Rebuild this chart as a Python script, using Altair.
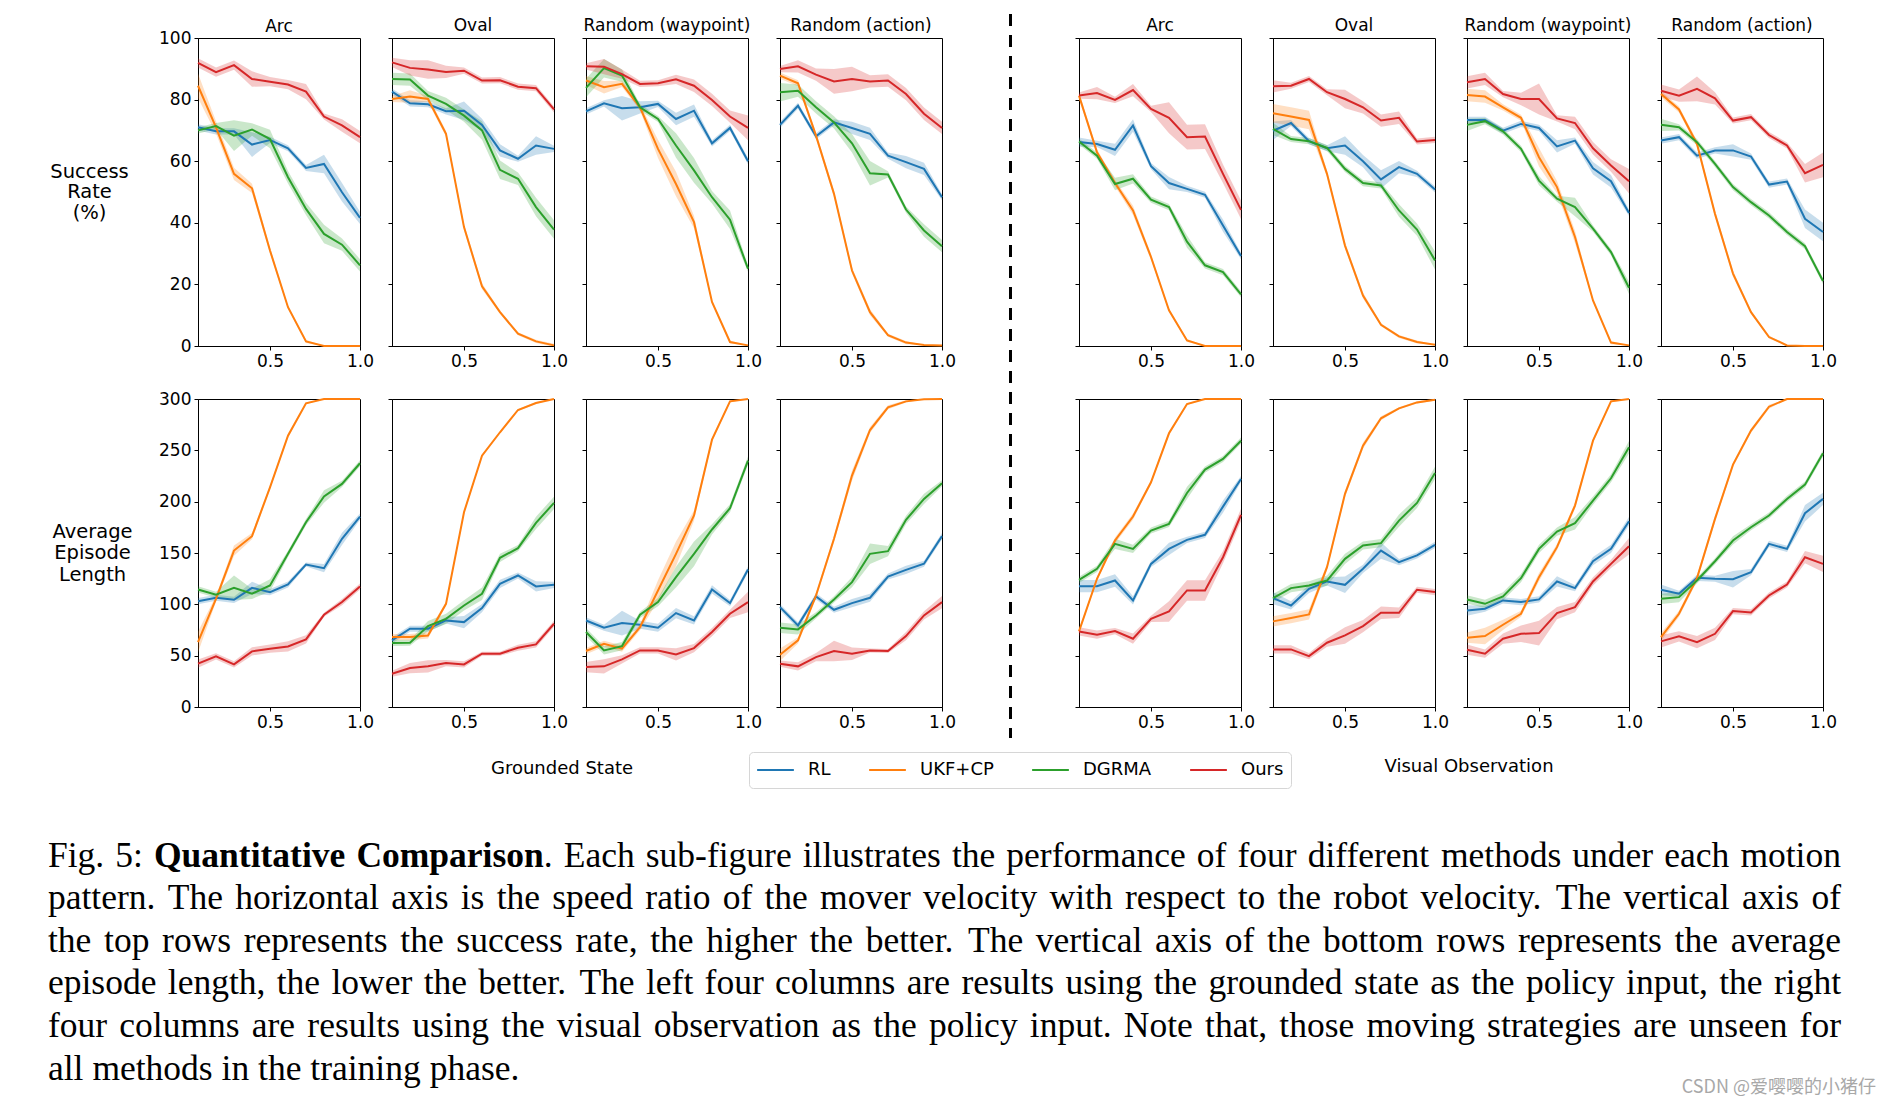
import altair as alt
import pandas as pd

X = [0.1, 0.2, 0.3, 0.4, 0.5, 0.6, 0.7, 0.8, 0.9, 1.0]
METHODS = ["RL", "UKF+CP", "DGRMA", "Ours"]
COLORS = ["#1f77b4", "#ff7f0e", "#2ca02c", "#d62728"]
PATTERNS = ["Arc", "Oval", "Random (waypoint)", "Random (action)"]
ROW_TITLES = [["Success", "Rate", "(%)"], ["Average", "Episode", "Length"]]
SR_TICKS = [0, 20, 40, 60, 80, 100]
LEN_TICKS = [0, 50, 100, 150, 200, 250, 300]
X_TICKS = [0.5, 1.0]
GROUP_LABELS = ["Grounded State", "Visual Observation"]

# ---------------- Success rate (grounded state) ----------------
G_ARC_SR = {
    "RL": [71.0, 69.7, 69.7, 65.4, 66.9, 64.2, 57.8, 59.1, 49.9, 41.6],
    "UKF+CP": [84.5, 71.0, 55.9, 51.2, 31.0, 12.6, 1.5, 0.0, 0.0, 0.0],
    "DGRMA": [70.0, 71.4, 68.3, 70.3, 67.2, 54.8, 44.5, 36.4, 32.9, 26.2],
    "Ours": [91.9, 88.9, 91.2, 86.7, 85.8, 84.9, 82.6, 74.5, 71.6, 67.8],
}
G_ARC_SR_ERR = {
    "RL": [1, 1, 1, 4, 1, 1, 1, 3, 3, 2],
    "UKF+CP": [4, 2, 2, 1.5, 1, 0.5, 0.5, 0, 0, 0],
    "DGRMA": [1, 1, 5, 2, 3, 2, 2, 3, 2, 2],
    "Ours": [1.5, 1.5, 1.5, 2.5, 1.5, 1.5, 2.5, 1, 2, 2],
}
G_OVAL_SR = {
    "RL": [82.6, 78.8, 78.5, 76.2, 76.4, 71.8, 63.5, 60.8, 65.1, 64.0],
    "UKF+CP": [80.2, 81.0, 80.2, 68.9, 38.6, 19.4, 11.0, 4.0, 1.5, 0.2],
    "DGRMA": [86.7, 86.5, 81.3, 78.6, 74.8, 70.0, 57.2, 54.3, 45.1, 37.8],
    "Ours": [92.1, 90.3, 89.8, 89.0, 89.4, 86.2, 86.3, 84.2, 83.7, 76.8],
}
G_OVAL_SR_ERR = {
    "RL": [1, 1, 1, 1, 3, 2, 2, 1, 3, 1],
    "UKF+CP": [1, 2, 1, 1, 1, 1, 0.5, 0.5, 0.5, 0.5],
    "DGRMA": [2, 2, 1.5, 2, 2, 3, 3, 2, 3, 3],
    "Ours": [1.5, 2.5, 3, 2, 1, 1, 1, 1, 1, 1],
}
G_RW_SR = {
    "RL": [76.2, 78.8, 77.2, 77.5, 78.6, 73.7, 76.4, 65.8, 70.8, 60.0],
    "UKF+CP": [86.2, 84.0, 85.1, 77.5, 64.0, 52.6, 40.2, 14.3, 1.3, 0.2],
    "DGRMA": [83.8, 90.2, 87.8, 77.5, 73.7, 65.1, 57.0, 48.3, 41.0, 25.1],
    "Ours": [90.8, 90.7, 88.3, 85.1, 85.3, 86.6, 84.5, 79.9, 74.5, 70.8],
}
G_RW_SR_ERR = {
    "RL": [1, 1, 4, 2, 1, 2, 2, 1, 1, 1],
    "UKF+CP": [1.5, 2, 1, 1, 3, 4, 2, 0.5, 0.5, 0],
    "DGRMA": [3, 3, 2, 1, 1, 4, 4, 2, 3, 1],
    "Ours": [1, 2.5, 1.5, 1, 1, 1.5, 2, 2, 2, 4],
}
G_RA_SR = {
    "RL": [71.8, 78.0, 68.1, 72.6, 70.8, 68.9, 61.8, 59.7, 57.5, 48.3],
    "UKF+CP": [87.8, 85.3, 68.3, 49.4, 24.5, 11.0, 3.5, 1.1, 0.3, 0.2],
    "DGRMA": [82.4, 82.9, 77.5, 72.6, 65.8, 56.1, 55.7, 44.3, 37.5, 32.4],
    "Ours": [89.9, 90.8, 88.1, 85.9, 86.7, 85.9, 86.2, 81.8, 75.4, 70.8],
}
G_RA_SR_ERR = {
    "RL": [1, 1, 1, 1, 2, 2, 1, 2, 2, 1],
    "UKF+CP": [1, 1, 1, 1, 1, 1, 0.5, 0.5, 0, 0],
    "DGRMA": [3, 2, 2, 2, 3, 4, 1, 1, 2, 2],
    "Ours": [1, 2, 2, 4, 4, 2, 2, 2, 2, 2],
}

# ---------------- Success rate (visual observation) ----------------
V_ARC_SR = {
    "RL": [66.2, 65.6, 63.7, 71.6, 58.4, 52.9, 51.0, 49.1, 39.1, 29.2],
    "UKF+CP": [81.3, 62.9, 52.9, 44.0, 28.9, 11.6, 1.8, 0.0, 0.0, 0.0],
    "DGRMA": [66.4, 61.8, 52.6, 54.3, 47.5, 45.1, 33.9, 26.2, 24.0, 16.8],
    "Ours": [81.3, 82.1, 79.9, 83.1, 77.0, 74.1, 67.8, 68.0, 55.9, 44.2],
}
V_ARC_SR_ERR = {
    "RL": [1.5, 1, 2, 2, 1, 2, 1, 1, 2, 1],
    "UKF+CP": [1, 1, 1, 1.5, 1, 0.5, 0.5, 0, 0, 0],
    "DGRMA": [1, 1, 2, 1.5, 1, 1, 2, 1, 1, 1],
    "Ours": [1, 2, 1, 2, 1, 5, 4, 4, 3, 3],
}
V_OVAL_SR = {
    "RL": [69.9, 72.4, 66.5, 64.2, 65.1, 60.0, 54.1, 58.1, 55.9, 50.8],
    "UKF+CP": [75.6, 74.5, 73.4, 55.9, 32.6, 16.4, 6.9, 3.1, 1.3, 0.4],
    "DGRMA": [70.5, 67.2, 66.5, 64.3, 57.5, 52.9, 52.1, 44.0, 37.8, 27.8],
    "Ours": [84.3, 84.5, 86.7, 82.4, 80.2, 77.5, 73.2, 74.1, 66.4, 66.9],
}
V_OVAL_SR_ERR = {
    "RL": [3, 1, 1, 1, 3, 2, 3, 2, 1, 1],
    "UKF+CP": [3, 3, 3, 1, 1, 1, 0.5, 0.5, 0.5, 0],
    "DGRMA": [2, 1, 1, 1, 1, 1, 1, 2, 2, 3],
    "Ours": [2, 1, 1, 1, 3, 2, 2, 2, 1, 1],
}
V_RW_SR = {
    "RL": [73.4, 73.4, 69.9, 72.1, 70.8, 64.8, 66.7, 57.7, 53.5, 43.2],
    "UKF+CP": [81.5, 81.0, 77.5, 74.1, 61.3, 51.6, 35.4, 14.8, 1.1, 0.2],
    "DGRMA": [71.8, 73.0, 69.7, 64.0, 53.7, 47.8, 45.1, 38.1, 30.5, 18.9],
    "Ours": [85.6, 86.7, 81.8, 80.2, 80.2, 73.9, 72.4, 64.2, 58.6, 53.5],
}
V_RW_SR_ERR = {
    "RL": [1, 1, 1, 1, 1, 2, 1, 2, 2, 1],
    "UKF+CP": [2, 2, 1, 1, 3, 2, 2, 0.5, 0.5, 0],
    "DGRMA": [2, 1, 1, 1, 1.5, 1, 3, 1, 1, 2],
    "Ours": [2, 2, 1, 2, 5, 1, 2, 2, 2, 4],
}
V_RA_SR = {
    "RL": [66.7, 67.8, 61.8, 63.5, 63.5, 61.5, 52.4, 53.4, 41.3, 37.0],
    "UKF+CP": [81.8, 76.8, 65.6, 42.9, 23.5, 11.0, 2.9, 0.2, 0.0, 0.0],
    "DGRMA": [71.8, 71.0, 66.2, 59.1, 51.6, 46.7, 42.4, 37.0, 32.4, 21.1],
    "Ours": [82.9, 81.3, 83.5, 80.4, 73.2, 74.3, 68.5, 65.1, 56.1, 58.8],
}
V_RA_SR_ERR = {
    "RL": [1, 1, 1, 1, 2, 1, 1, 1, 3, 3],
    "UKF+CP": [1, 1, 1, 1, 1, 0.5, 0.5, 0, 0, 0],
    "DGRMA": [2, 1, 1, 1, 1, 1, 1, 1, 1, 1],
    "Ours": [2, 2, 4, 2, 1, 1, 1, 1, 3, 4],
}

# ---------------- Episode length (grounded state) ----------------
G_ARC_LEN = {
    "RL": [103.1, 106.4, 104.4, 116.1, 111.9, 119.3, 138.8, 135.2, 163.8, 185.5],
    "UKF+CP": [63.2, 105.4, 152.4, 166.4, 214.0, 264.3, 295.8, 300.0, 300.0, 300.0],
    "DGRMA": [114.5, 109.3, 116.1, 110.3, 118.4, 149.2, 180.0, 205.0, 217.3, 237.4],
    "Ours": [42.2, 49.3, 41.5, 54.2, 56.8, 59.0, 65.8, 89.8, 102.2, 117.4],
}
G_ARC_LEN_ERR = {
    "RL": [3, 3, 3, 6, 3, 3, 2, 4, 6, 3],
    "UKF+CP": [10, 3, 5, 3, 2, 2, 1, 0, 0, 0],
    "DGRMA": [3, 3, 12, 5, 6, 3, 3, 6, 3, 3],
    "Ours": [4, 3, 3, 4, 4, 5, 4, 2, 3, 3],
}
G_OVAL_LEN = {
    "RL": [64.9, 76.2, 76.2, 84.3, 82.7, 96.3, 120.0, 128.1, 117.4, 119.0],
    "UKF+CP": [68.1, 68.1, 69.7, 100.5, 189.7, 244.8, 267.6, 289.3, 296.1, 300.0],
    "DGRMA": [62.3, 62.6, 78.8, 85.9, 98.9, 110.3, 145.3, 154.7, 179.3, 198.8],
    "Ours": [32.4, 37.9, 39.6, 42.8, 41.5, 51.9, 51.9, 57.7, 61.0, 81.1],
}
G_OVAL_LEN_ERR = {
    "RL": [3, 3, 3, 3, 6, 4, 4, 3, 5, 3],
    "UKF+CP": [3, 3, 3, 2, 2, 1, 1, 1, 1, 0],
    "DGRMA": [3, 3, 5, 5, 5, 6, 4, 3, 6, 6],
    "Ours": [3, 5, 6, 3, 3, 2, 2, 3, 3, 3],
}
G_RW_LEN = {
    "RL": [84.3, 77.2, 81.7, 80.1, 77.2, 91.5, 84.3, 114.5, 101.2, 133.9],
    "UKF+CP": [54.5, 61.6, 56.8, 77.8, 113.5, 149.2, 186.5, 260.4, 297.7, 300.0],
    "DGRMA": [73.0, 55.1, 59.3, 89.8, 102.2, 126.5, 149.2, 172.9, 193.6, 240.0],
    "Ours": [38.9, 39.6, 46.4, 55.1, 55.1, 51.2, 57.4, 73.0, 90.8, 102.2],
}
G_RW_LEN_ERR = {
    "RL": [3, 3, 12, 4, 4, 5, 4, 4, 3, 3],
    "UKF+CP": [3, 3, 3, 3, 10, 12, 5, 2, 1, 0],
    "DGRMA": [4, 4, 4, 3, 4, 10, 12, 5, 4, 4],
    "Ours": [5, 7, 4, 3, 3, 6, 4, 4, 4, 10],
}
G_RA_LEN = {
    "RL": [97.3, 79.5, 107.7, 94.7, 101.2, 106.4, 127.1, 133.6, 139.5, 166.4],
    "UKF+CP": [50.9, 64.9, 108.6, 163.8, 225.4, 269.8, 291.9, 297.7, 299.7, 300.0],
    "DGRMA": [77.2, 75.6, 89.2, 104.8, 121.6, 149.2, 151.8, 182.3, 202.7, 217.9],
    "Ours": [42.2, 39.6, 48.6, 54.5, 51.9, 55.1, 54.5, 69.1, 89.2, 102.2],
}
G_RA_LEN_ERR = {
    "RL": [3, 3, 3, 3, 4, 4, 3, 4, 3, 3],
    "UKF+CP": [6, 3, 3, 3, 5, 3, 2, 1, 0, 0],
    "DGRMA": [5, 5, 3, 3, 5, 10, 5, 4, 5, 3],
    "Ours": [3, 4, 4, 10, 6, 2, 2, 4, 4, 6],
}

# ---------------- Episode length (visual observation) ----------------
V_ARC_LEN = {
    "RL": [117.7, 117.7, 123.2, 103.8, 139.4, 154.0, 162.8, 167.7, 195.2, 222.1],
    "UKF+CP": [73.6, 124.9, 162.2, 185.5, 218.9, 266.6, 295.1, 300.0, 300.0, 300.0],
    "DGRMA": [123.9, 134.6, 158.9, 154.0, 171.9, 178.4, 208.5, 231.2, 241.6, 259.4],
    "Ours": [73.6, 70.4, 73.9, 66.5, 85.9, 93.1, 113.5, 113.5, 145.9, 187.1],
}
V_ARC_LEN_ERR = {
    "RL": [6, 6, 6, 4, 3, 6, 3, 3, 6, 3],
    "UKF+CP": [2, 2, 3, 3, 2, 2, 1, 0, 0, 0],
    "DGRMA": [3, 3, 5, 4, 3, 3, 6, 3, 3, 3],
    "Ours": [4, 4, 3, 5, 3, 10, 10, 10, 6, 6],
}
V_OVAL_LEN = {
    "RL": [106.0, 98.9, 115.1, 122.3, 119.0, 134.6, 152.4, 141.1, 147.6, 157.9],
    "UKF+CP": [83.4, 86.6, 90.2, 136.2, 207.6, 254.6, 281.2, 290.9, 296.7, 299.3],
    "DGRMA": [106.0, 115.8, 118.4, 123.2, 144.3, 157.3, 159.6, 181.6, 198.8, 228.0],
    "Ours": [56.1, 56.1, 49.6, 62.6, 69.7, 78.8, 91.8, 91.8, 114.2, 111.9],
}
V_OVAL_LEN_ERR = {
    "RL": [6, 4, 4, 4, 8, 4, 8, 3, 3, 3],
    "UKF+CP": [5, 5, 5, 3, 3, 3, 2, 1, 1, 1],
    "DGRMA": [4, 4, 4, 5, 5, 4, 4, 6, 5, 6],
    "Ours": [4, 4, 3, 4, 8, 6, 6, 5, 3, 3],
}
V_RW_LEN = {
    "RL": [94.0, 95.7, 103.8, 102.2, 104.8, 122.3, 115.8, 142.0, 154.0, 181.0],
    "UKF+CP": [67.5, 69.1, 80.1, 90.8, 126.5, 155.7, 196.2, 259.4, 297.7, 300.0],
    "DGRMA": [104.8, 100.5, 107.7, 125.5, 154.0, 170.9, 179.0, 201.1, 222.8, 253.0],
    "Ours": [55.8, 51.9, 66.5, 71.3, 72.0, 91.5, 97.3, 122.3, 139.4, 156.6],
}
V_RW_LEN_ERR = {
    "RL": [5, 3, 3, 3, 3, 5, 3, 4, 4, 4],
    "UKF+CP": [5, 8, 5, 3, 4, 3, 3, 2, 1, 0],
    "DGRMA": [4, 4, 4, 4, 4, 4, 6, 4, 4, 6],
    "Ours": [5, 4, 5, 8, 12, 6, 5, 4, 4, 8],
}
V_RA_LEN = {
    "RL": [114.2, 110.3, 125.8, 124.9, 124.5, 131.3, 158.9, 154.0, 188.7, 202.7],
    "UKF+CP": [68.1, 90.8, 125.5, 183.2, 236.1, 269.2, 292.5, 300.0, 300.0, 300.0],
    "DGRMA": [105.4, 107.0, 123.2, 142.0, 162.2, 175.1, 186.5, 202.7, 216.6, 247.1],
    "Ours": [63.9, 68.8, 63.2, 71.3, 93.4, 92.1, 108.6, 119.3, 145.9, 139.4],
}
V_RA_LEN_ERR = {
    "RL": [5, 3, 3, 3, 8, 3, 3, 3, 8, 6],
    "UKF+CP": [4, 3, 3, 3, 2, 2, 2, 0, 0, 0],
    "DGRMA": [5, 5, 3, 3, 4, 3, 3, 3, 3, 3],
    "Ours": [6, 5, 6, 6, 3, 3, 3, 3, 6, 8],
}

# ---------------- caption text ----------------
CAPTION_PREFIX = "Fig. 5:"
CAPTION_BOLD = "Quantitative Comparison"
CAPTION_LINE1_REST = ". Each sub-figure illustrates the performance of four different methods under each motion"
CAPTION_LINES = [
    "pattern. The horizontal axis is the speed ratio of the mover velocity with respect to the robot velocity. The vertical axis of",
    "the top rows represents the success rate, the higher the better. The vertical axis of the bottom rows represents the average",
    "episode length, the lower the better. The left four columns are results using the grounded state as the policy input, the right",
    "four columns are results using the visual observation as the policy input. Note that, those moving strategies are unseen for",
    "all methods in the training phase.",
]
WATERMARK = "CSDN @爱嘤嘤的小猪仔"

# ---------------- style / layout ----------------
PANEL_W, PANEL_H = 162, 308
SEP_W = 73
FONT = "DejaVu Sans"
SERIF = "Liberation Serif"
CAP_SIZE = 35.5
CAP_X0, CAP_WIDTH = -150, 1793

# Times (Liberation Serif) advance widths per 1000 em, used to justify caption lines
_REG = {" ": 250, "!": 333, "(": 333, ")": 333, "+": 564, ",": 250, "-": 333, ".": 250,
        "/": 278, ":": 278, ";": 278, "?": 444, "@": 921, "'": 180}
_REG.update({d: 500 for d in "0123456789"})
_REG.update(dict(zip("ABCDEFGHIJKLMNOPQRSTUVWXYZ",
                     [722, 667, 667, 722, 611, 556, 722, 722, 333, 389, 722, 611, 889,
                      722, 722, 556, 722, 667, 556, 611, 722, 722, 944, 722, 722, 611])))
_REG.update(dict(zip("abcdefghijklmnopqrstuvwxyz",
                     [444, 500, 444, 500, 444, 333, 500, 500, 278, 278, 500, 278, 778,
                      500, 500, 500, 500, 333, 389, 278, 500, 500, 722, 500, 500, 444])))
_BOLD = {"Q": 778, "u": 556, "a": 500, "n": 556, "t": 333, "i": 278, "v": 500, "e": 444,
         "C": 722, "o": 500, "m": 833, "p": 556, "r": 444, "s": 389, " ": 250}


def text_w(s, bold=False):
    tab = _BOLD if bold else _REG
    return sum(tab.get(c, _REG.get(c, 500)) for c in s) * CAP_SIZE / 1000.0


def layout_line(tokens, justify):
    widths = [sum(text_w(t, b) for t, b in tok) for tok in tokens]
    if justify and len(tokens) > 1:
        gap = (CAP_WIDTH - sum(widths)) / (len(tokens) - 1)
    else:
        gap = text_w(" ")
    out, cur = [], CAP_X0
    for tok, w in zip(tokens, widths):
        px = cur
        for t, b in tok:
            out.append((px, t, b))
            px += text_w(t, b)
        cur += w + gap
    return out


line1_tokens = [[(w, False)] for w in CAPTION_PREFIX.split()]
bold_words = CAPTION_BOLD.split()
line1_tokens += [[(w, True)] for w in bold_words[:-1]]
rest_words = CAPTION_LINE1_REST.split()
line1_tokens += [[(bold_words[-1], True), (rest_words[0], False)]]
line1_tokens += [[(w, False)] for w in rest_words[1:]]

cap_rows = []
for px, t, b in layout_line(line1_tokens, True):
    cap_rows.append({"line": 1, "px": px, "text": t, "bold": b})
for i, ln in enumerate(CAPTION_LINES):
    toks = [[(w, False)] for w in ln.split()]
    for px, t, b in layout_line(toks, i < len(CAPTION_LINES) - 1):
        cap_rows.append({"line": i + 2, "px": px, "text": t, "bold": b})
cap_df = pd.DataFrame(cap_rows)

LEGEND = alt.Legend(
    orient="none", legendX=551, legendY=714, direction="horizontal", title=None,
    symbolType="stroke", symbolSize=1350, symbolStrokeWidth=2, symbolOpacity=1,
    labelFont=FONT, labelFontSize=18, labelColor="black", labelOffset=13,
    columnPadding=37, padding=7, clipHeight=22, strokeColor="#d6d6d6",
    cornerRadius=4, fillColor="white",
)


def frame(mean, err):
    rows = []
    for k, m in enumerate(METHODS):
        for x, v, e in zip(X, mean[m], err[m]):
            rows.append({"method": m, "k": k, "x": x, "y": v, "lo": v - e, "hi": v + e})
    return pd.DataFrame(rows)


def panel(mean, err, row, col, first, show_title):
    df = frame(mean, err)
    ticks = SR_TICKS if row == 0 else LEN_TICKS
    yscale = alt.Scale(domain=[ticks[0], ticks[-1]], nice=False, zero=True)
    xscale = alt.Scale(domain=[0.1, 1.0], nice=False, zero=False)
    xaxis = alt.Axis(values=X_TICKS, format=".1f", title=None, labelFlush=False)
    if first:
        yaxis = alt.Axis(
            values=ticks, labels=True, labelFlush=False, title=ROW_TITLES[row],
            titleAngle=0, titleAlign="center", titleBaseline="middle",
            titleX=-109 if row == 0 else -106, titleY=133 if row == 0 else 132,
            titleFont=FONT, titleFontSize=19.5, titleFontWeight="normal",
            titleLineHeight=20.5 if row == 0 else 21.5, titleColor="black",
        )
    else:
        yaxis = alt.Axis(values=ticks, labels=False, title=None)
    color = alt.Color("method:N", scale=alt.Scale(domain=METHODS, range=COLORS), legend=LEGEND)
    base = alt.Chart(df)
    band = base.mark_area(opacity=0.25, clip=True).encode(
        x=alt.X("x:Q", scale=xscale, axis=xaxis),
        y=alt.Y("lo:Q", scale=yscale, axis=yaxis),
        y2="hi:Q",
        color=color,
        order="k:Q",
    )
    line = base.mark_line(strokeWidth=2).encode(
        x=alt.X("x:Q", scale=xscale, axis=xaxis),
        y=alt.Y("y:Q", scale=yscale, axis=yaxis),
        color=color,
        order="x:Q",
    )
    props = dict(width=PANEL_W, height=PANEL_H)
    if show_title:
        props["title"] = alt.TitleParams(PATTERNS[col], offset=-7 if first else 3)
    return alt.layer(band, line).properties(**props)


SR = {
    "G": [(G_ARC_SR, G_ARC_SR_ERR), (G_OVAL_SR, G_OVAL_SR_ERR), (G_RW_SR, G_RW_SR_ERR), (G_RA_SR, G_RA_SR_ERR)],
    "V": [(V_ARC_SR, V_ARC_SR_ERR), (V_OVAL_SR, V_OVAL_SR_ERR), (V_RW_SR, V_RW_SR_ERR), (V_RA_SR, V_RA_SR_ERR)],
}
LEN = {
    "G": [(G_ARC_LEN, G_ARC_LEN_ERR), (G_OVAL_LEN, G_OVAL_LEN_ERR), (G_RW_LEN, G_RW_LEN_ERR), (G_RA_LEN, G_RA_LEN_ERR)],
    "V": [(V_ARC_LEN, V_ARC_LEN_ERR), (V_OVAL_LEN, V_OVAL_LEN_ERR), (V_RW_LEN, V_RW_LEN_ERR), (V_RA_LEN, V_RA_LEN_ERR)],
}

one = pd.DataFrame({"k": [0]})
TRANSPARENT = alt.ViewBackground(stroke="transparent")

sep = alt.Chart(one).mark_rule(
    color="black", strokeWidth=3, strokeDash=[12, 9]
).encode(
    x=alt.value(SEP_W / 2), y=alt.value(-24), y2=alt.value(700)
).properties(width=SEP_W, height=PANEL_H, view=TRANSPARENT)

spacer = alt.Chart(one).mark_point(opacity=0).encode(
    x=alt.value(0), y=alt.value(0)
).properties(width=SEP_W, height=PANEL_H, view=TRANSPARENT)

# ---------------- caption block ----------------
LINE_IDS = [1, 2, 3, 4, 5, 6]
ycap = alt.Y("line:O", scale=alt.Scale(domain=LINE_IDS, range=[106.5, 319.5], padding=0), axis=None)
xcap = alt.X("px:Q", scale=alt.Scale(domain=[0, 1000], range=[0, 1000]), axis=None)
cap_base = alt.Chart(cap_df)
cap_normal = cap_base.transform_filter("!datum.bold").mark_text(
    align="left", baseline="alphabetic", font=SERIF, fontSize=CAP_SIZE, color="black"
).encode(x=xcap, y=ycap, text="text:N")
cap_bold = cap_base.transform_filter("datum.bold").mark_text(
    align="left", baseline="alphabetic", font=SERIF, fontSize=CAP_SIZE,
    fontWeight="bold", color="black"
).encode(x=xcap, y=ycap, text="text:N")
grp_left = alt.Chart(pd.DataFrame({"t": [GROUP_LABELS[0]]})).mark_text(
    align="center", baseline="middle", font=FONT, fontSize=18, color="black"
).encode(x=alt.value(364), y=alt.value(9), text="t:N")
grp_right = alt.Chart(pd.DataFrame({"t": [GROUP_LABELS[1]]})).mark_text(
    align="center", baseline="middle", font=FONT, fontSize=18, color="black"
).encode(x=alt.value(1271), y=alt.value(7), text="t:N")
mark_wm = alt.Chart(pd.DataFrame({"t": [WATERMARK]})).mark_text(
    align="right", baseline="middle", font="Noto Sans CJK SC", fontSize=18, color="#a8a8a8"
).encode(x=alt.value(1678), y=alt.value(328), text="t:N")

caption = alt.layer(cap_normal, cap_bold, grp_left, grp_right, mark_wm).properties(
    width=PANEL_W, height=331, view=TRANSPARENT
)

cells = []
cells += [panel(m, e, 0, i, i == 0, True) for i, (m, e) in enumerate(SR["G"])]
cells += [sep]
cells += [panel(m, e, 0, i, False, True) for i, (m, e) in enumerate(SR["V"])]
cells += [panel(m, e, 1, i, i == 0, False) for i, (m, e) in enumerate(LEN["G"])]
cells += [spacer]
cells += [panel(m, e, 1, i, False, False) for i, (m, e) in enumerate(LEN["V"])]
cells += [caption]

chart = alt.concat(
    *cells, columns=9, spacing={"row": 53, "column": 32}, bounds="flush"
).properties(
    padding={"left": 39, "top": 4, "right": 5, "bottom": 5}
).configure_axis(
    domainColor="black", tickColor="black", labelColor="black", labelFont=FONT,
    labelFontSize=17, grid=False, tickSize=4, labelPadding=3, domainWidth=1,
).configure_view(
    stroke="black", strokeWidth=1
).configure_title(
    font=FONT, fontSize=17, fontWeight="normal", color="black", offset=3
)

chart.save("out.html", embed_options={"renderer": "svg", "actions": False})
